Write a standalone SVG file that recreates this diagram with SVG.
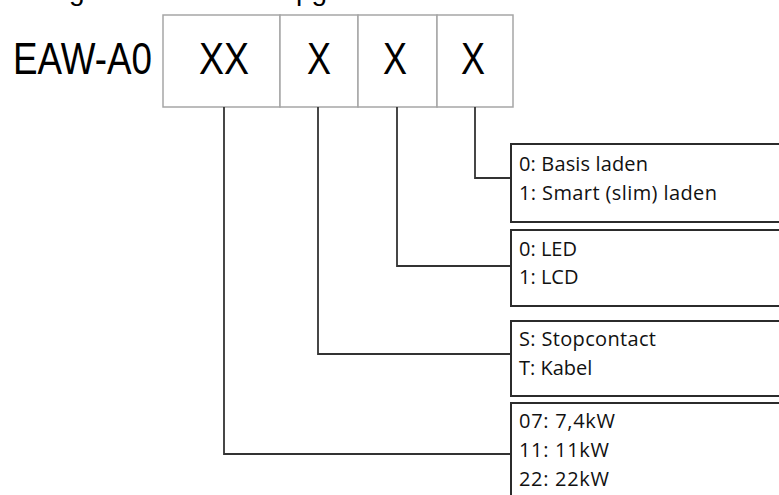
<svg xmlns="http://www.w3.org/2000/svg" width="779" height="495" viewBox="0 0 779 495">
<style>
.code{fill:#ffffff;stroke:#a6a6a6;stroke-width:1.5}
.opt{fill:#ffffff;stroke:#2b2b2b;stroke-width:2}
.big{font-family:"Liberation Sans",Arial,sans-serif;font-size:44px;fill:#000}
.cut{font-family:"Liberation Sans",Arial,sans-serif;font-size:28px;fill:#000}
.lbl{font-family:"Open Sans","Noto Sans",sans-serif;font-size:20px;fill:#111}
.conn{fill:none;stroke:#333333;stroke-width:1.8}
</style>
<rect width="779" height="495" fill="#ffffff"/>
<g id="title-cut">
<text class="cut" x="69" y="0">g</text>
<text class="cut" x="296" y="0">pg</text>
</g>
<g id="prefix">
<text class="big" x="13" y="74" textLength="139" lengthAdjust="spacingAndGlyphs">EAW-A0</text>
</g>
<g id="code-xx">
<rect class="code" x="163" y="15" width="117" height="92"/>
<text class="big" x="199" y="74" textLength="50" lengthAdjust="spacingAndGlyphs">XX</text>
</g>
<g id="code-x1">
<rect class="code" x="280" y="15" width="78" height="92"/>
<text class="big" x="307" y="74" textLength="24" lengthAdjust="spacingAndGlyphs">X</text>
</g>
<g id="code-x2">
<rect class="code" x="358" y="15" width="79" height="92"/>
<text class="big" x="383" y="74" textLength="24" lengthAdjust="spacingAndGlyphs">X</text>
</g>
<g id="code-x3">
<rect class="code" x="437" y="15" width="76" height="92"/>
<text class="big" x="461" y="74" textLength="24" lengthAdjust="spacingAndGlyphs">X</text>
</g>
<g id="connectors">
<polyline class="conn" points="475,107 475,178 511,178"/>
<polyline class="conn" points="397,107 397,266 511,266"/>
<polyline class="conn" points="318,107 318,354 511,354"/>
<polyline class="conn" points="224,107 224,454 511,454"/>
</g>
<g id="opt-laden">
<rect class="opt" x="511" y="144" width="280" height="78"/>
<text class="lbl" x="519" y="171" textLength="129">0: Basis laden</text>
<text class="lbl" x="519" y="200" textLength="198">1: Smart (slim) laden</text>
</g>
<g id="opt-display">
<rect class="opt" x="511" y="230" width="280" height="76"/>
<text class="lbl" x="519" y="256">0: LED</text>
<text class="lbl" x="519" y="284">1: LCD</text>
</g>
<g id="opt-aansluiting">
<rect class="opt" x="511" y="321" width="280" height="75"/>
<text class="lbl" x="519" y="346" textLength="137">S: Stopcontact</text>
<text class="lbl" x="519" y="375">T: Kabel</text>
</g>
<g id="opt-vermogen">
<rect class="opt" x="511" y="403" width="280" height="110"/>
<text class="lbl" x="519" y="428" textLength="96">07: 7,4kW</text>
<text class="lbl" x="519" y="457" textLength="90">11: 11kW</text>
<text class="lbl" x="519" y="486" textLength="90">22: 22kW</text>
</g>
</svg>
